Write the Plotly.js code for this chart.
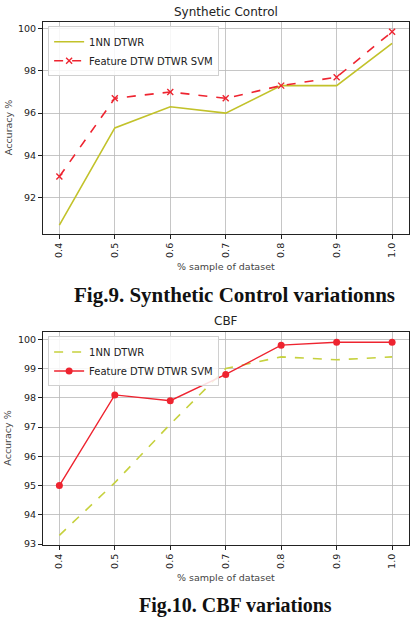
<!DOCTYPE html>
<html>
<head>
<meta charset="utf-8">
<script src="https://cdn.plot.ly/plotly-3.0.1.min.js"></script>
<style>html,body{margin:0;padding:0;background:#fff;}#chart{width:413px;height:617px;}</style>
</head>
<body>
<div id="chart"></div>
<script>
const samples = [0.4, 0.5, 0.6, 0.7, 0.8, 0.9, 1.0];
const tickLabels = ["0.4", "0.5", "0.6", "0.7", "0.8", "0.9", "1.0"];
const synth1NN = [90.7, 95.3, 96.3, 96.0, 97.3, 97.3, 99.3];
const synthFeature = [93.0, 96.7, 97.0, 96.7, 97.3, 97.7, 99.85];
const cbf1NN = [93.3, 95.1, 97.1, 99.0, 99.4, 99.3, 99.4];
const cbfFeature = [95.0, 98.1, 97.9, 98.8, 99.8, 99.9, 99.9];
const seriesNames = ["1NN DTWR", "Feature DTW DTWR SVM"];

const olive = "#c2c22a";
const lime = "#c6d13e";
const red = "#ee2430";
const font = "DejaVu Sans, sans-serif";

const traces = [
  {x: samples, y: synth1NN, name: seriesNames[0], mode: "lines", line: {color: olive, width: 1.6}, xaxis: "x", yaxis: "y", legend: "legend"},
  {x: samples, y: synthFeature, name: seriesNames[1], mode: "lines+markers", line: {color: red, width: 1.6, dash: "dash"},
   marker: {symbol: "x-thin", size: 6, line: {color: red, width: 1.4}, color: red}, xaxis: "x", yaxis: "y", legend: "legend"},
  {x: samples, y: cbf1NN, name: seriesNames[0], mode: "lines", line: {color: lime, width: 1.6, dash: "dash"}, xaxis: "x2", yaxis: "y2", legend: "legend2"},
  {x: samples, y: cbfFeature, name: seriesNames[1], mode: "lines+markers", line: {color: red, width: 1.4},
   marker: {symbol: "circle", size: 7, color: red}, xaxis: "x2", yaxis: "y2", legend: "legend2"}
];

const xbase = {
  range: [0.3705, 1.0305], tickvals: samples, ticktext: tickLabels, tickangle: -90,
  showgrid: true, gridcolor: "#b8b8b8", gridwidth: 0.8, zeroline: false,
  showline: true, linecolor: "#222", linewidth: 1, mirror: true,
  ticks: "outside", ticklen: 4, tickcolor: "#222", tickfont: {family: font, size: 9.5, color: "#222"}
};
const ybase = {
  showgrid: true, gridcolor: "#b8b8b8", gridwidth: 0.8, zeroline: false,
  showline: true, linecolor: "#222", linewidth: 1, mirror: true,
  ticks: "outside", ticklen: 4, tickcolor: "#222", tickfont: {family: font, size: 9.5, color: "#222"}
};

const legendBase = {
  bgcolor: "rgba(255,255,255,0.85)", bordercolor: "#d0d0d0", borderwidth: 1,
  font: {family: font, size: 10, color: "#222"}, xref: "paper", yref: "paper",
  xanchor: "left", yanchor: "top", tracegroupgap: 0, itemwidth: 30
};

const layout = {
  width: 413, height: 617,
  margin: {l: 43, r: 4, t: 22, b: 72},
  paper_bgcolor: "#fff", plot_bgcolor: "#fff",
  showlegend: true,
  xaxis: Object.assign({}, xbase, {anchor: "y", domain: [0, 1]}),
  yaxis: Object.assign({}, ybase, {anchor: "x", domain: [0.5946, 1], range: [90.28, 100.31], tickvals: [92, 94, 96, 98, 100]}),
  xaxis2: Object.assign({}, xbase, {anchor: "y2", domain: [0, 1]}),
  yaxis2: Object.assign({}, ybase, {anchor: "x2", domain: [0, 0.4067], range: [92.97, 100.24], tickvals: [93, 94, 95, 96, 97, 98, 99, 100]}),
  legend: Object.assign({}, legendBase, {x: 0.014, y: 0.992}),
  legend2: Object.assign({}, legendBase, {x: 0.014, y: 0.3987}),
  annotations: [
    {text: "Synthetic Control", xref: "paper", yref: "paper", x: 0.5, y: 1, yshift: 10, xanchor: "center", yanchor: "middle", showarrow: false, font: {family: font, size: 12, color: "#222"}},
    {text: "CBF", xref: "paper", yref: "paper", x: 0.5, y: 0.4067, yshift: 11, xanchor: "center", yanchor: "middle", showarrow: false, font: {family: font, size: 12, color: "#222"}},
    {text: "% sample of dataset", xref: "paper", yref: "paper", x: 0.5, y: 0.5946, yshift: -32, xanchor: "center", yanchor: "middle", showarrow: false, font: {family: font, size: 9.5, color: "#444"}},
    {text: "% sample of dataset", xref: "paper", yref: "paper", x: 0.5, y: 0, yshift: -32, xanchor: "center", yanchor: "middle", showarrow: false, font: {family: font, size: 9.5, color: "#444"}},
    {text: "Accuracy %", xref: "paper", yref: "paper", x: 0, xshift: -35, y: 0.797, textangle: -90, xanchor: "center", yanchor: "middle", showarrow: false, font: {family: font, size: 9.5, color: "#444"}},
    {text: "Accuracy %", xref: "paper", yref: "paper", x: 0, xshift: -35, y: 0.2033, textangle: -90, xanchor: "center", yanchor: "middle", showarrow: false, font: {family: font, size: 9.5, color: "#444"}},
    {text: "<b>Fig.9. Synthetic Control variationns</b>", xref: "paper", yref: "paper", x: 0.5, xshift: 8, y: 0.5946, yshift: -61, xanchor: "center", yanchor: "middle", showarrow: false, font: {family: "Liberation Serif, Times New Roman, serif", size: 21, color: "#111"}},
    {text: "<b>Fig.10. CBF variations</b>", xref: "paper", yref: "paper", x: 0.5, xshift: 9, y: 0, yshift: -60, xanchor: "center", yanchor: "middle", showarrow: false, font: {family: "Liberation Serif, Times New Roman, serif", size: 20, color: "#111"}}
  ]
};

Plotly.newPlot("chart", traces, layout, {displayModeBar: false, staticPlot: true});
</script>
</body>
</html>
